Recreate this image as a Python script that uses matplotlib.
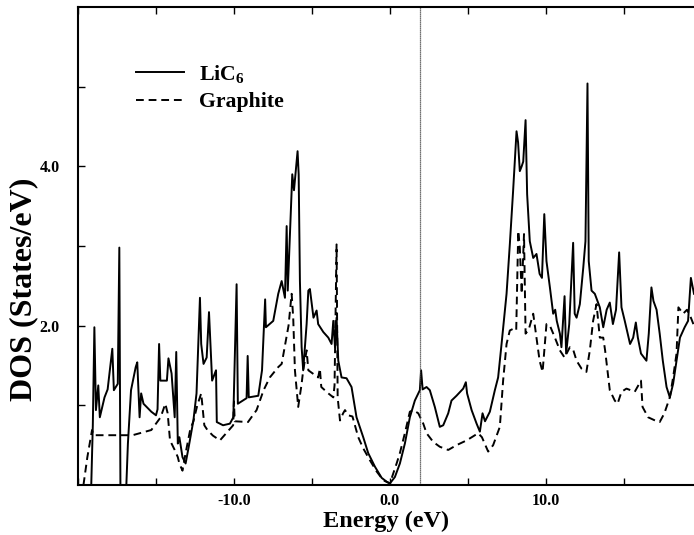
import numpy as np
import matplotlib
matplotlib.use("Agg")
import matplotlib.pyplot as plt

plt.rcParams['font.family'] = ['Liberation Serif', 'DejaVu Serif']
plt.rcParams['font.weight'] = 'bold'
plt.rcParams['mathtext.fontset'] = 'custom'
plt.rcParams['mathtext.rm'] = 'Liberation Serif:bold'
plt.rcParams['mathtext.bf'] = 'Liberation Serif:bold'

# LiC6 DOS (solid)
lic6_e = [-19.15, -19.05, -18.95, -18.85, -18.7, -18.6, -18.3, -18.1, -17.8, -17.7,
          -17.45, -17.35, -17.28, -16.9, -16.8, -16.6, -16.3, -16.2, -16.05, -15.95,
          -15.8, -15.3, -15.0, -14.9, -14.8, -14.72, -14.3, -14.2, -14.0, -13.8,
          -13.7, -13.6, -13.5, -13.3, -13.1, -12.9, -12.6, -12.4, -12.18, -12.1,
          -11.95, -11.75, -11.6, -11.4, -11.15, -11.1, -10.7, -10.26, -10.04, -9.83,
          -9.75, -9.19, -9.12, -9.05, -8.44, -8.2, -8.0, -7.95, -7.48, -7.16,
          -6.94, -6.73, -6.62, -6.55, -6.26, -6.15, -5.92, -5.85, -5.77, -5.66,
          -5.56, -5.45, -5.34, -5.23, -5.13, -4.9, -4.7, -4.6, -4.27, -3.95,
          -3.74, -3.63, -3.52, -3.42, -3.31, -3.1, -2.78, -2.46, -2.14, -1.71,
          -1.39, -0.96, -0.53, -0.2, 0.0, 0.32, 0.64, 0.96, 1.28, 1.6,
          1.92, 2.0, 2.1, 2.35, 2.56, 2.88, 3.2, 3.42, 3.74, 3.95,
          4.27, 4.7, 4.87, 4.95, 5.24, 5.56, 5.77, 5.94, 6.1, 6.41,
          6.73, 6.94, 7.16, 7.48, 7.69, 7.9, 8.12, 8.22, 8.33, 8.45,
          8.55, 8.7, 8.8, 8.97, 9.19, 9.4, 9.6, 9.75, 9.9, 10.04,
          10.26, 10.47, 10.6, 10.7, 10.9, 11.0, 11.2, 11.3, 11.5, 11.75,
          11.85, 11.97, 12.18, 12.4, 12.54, 12.67, 12.75, 12.93, 13.14, 13.46,
          13.68, 13.9, 14.1, 14.3, 14.5, 14.7, 14.85, 15.06, 15.4, 15.6,
          15.77, 15.9, 16.1, 16.45, 16.6, 16.77, 16.9, 17.1, 17.3, 17.5,
          17.74, 17.95, 18.16, 18.38, 18.6, 18.9, 19.12, 19.3, 19.5]
lic6_dos = [0.0, 0.75, 1.98, 0.94, 1.25, 0.85, 1.1, 1.2, 1.71, 1.19,
            1.27, 2.98, 0.0, 0.0, 0.52, 1.19, 1.48, 1.54, 0.85, 1.15,
            1.02, 0.92, 0.875, 0.95, 1.77, 1.31, 1.31, 1.59, 1.4, 0.85,
            1.67, 0.52, 0.6, 0.35, 0.27, 0.48, 0.81, 1.15, 2.35, 1.77,
            1.52, 1.6, 2.17, 1.31, 1.44, 0.79, 0.75, 0.77, 0.85, 2.52,
            1.02, 1.09, 1.62, 1.1, 1.12, 1.44, 2.33, 1.98, 2.06, 2.4,
            2.56, 2.35, 3.25, 2.44, 3.9, 3.7, 4.19, 3.9, 2.56, 1.73,
            1.44, 1.73, 2.02, 2.44, 2.46, 2.1, 2.19, 2.02, 1.92, 1.85,
            1.77, 2.06, 1.73, 2.1, 1.56, 1.35, 1.34, 1.23, 0.85, 0.6,
            0.4, 0.23, 0.09, 0.04, 0.02, 0.1, 0.27, 0.52, 0.85, 1.06,
            1.19, 1.44, 1.2, 1.23, 1.19, 0.98, 0.73, 0.75, 0.9, 1.06,
            1.12, 1.21, 1.29, 1.15, 0.94, 0.77, 0.67, 0.9, 0.8, 0.92,
            1.19, 1.35, 1.77, 2.4, 3.02, 3.69, 4.44, 4.3, 3.94, 4.0,
            4.06, 4.58, 3.65, 3.06, 2.85, 2.9, 2.65, 2.6, 3.4, 2.81,
            2.48, 2.15, 2.2, 2.06, 1.9, 1.73, 2.37, 1.65, 2.02, 3.04,
            2.15, 2.1, 2.27, 2.73, 3.06, 5.04, 2.81, 2.44, 2.4, 2.23,
            1.98, 2.2, 2.29, 2.02, 2.2, 2.92, 2.23, 2.06, 1.77, 1.85,
            2.04, 1.85, 1.65, 1.56, 1.9, 2.48, 2.31, 2.2, 1.9, 1.56,
            1.23, 1.1, 1.27, 1.56, 1.85, 1.98, 2.06, 2.6, 2.4]

# Graphite DOS (dashed)
gr_e = [-19.65, -19.4, -19.1, -19.0, -16.5, -15.3, -14.7, -14.4, -14.25, -14.1,
        -13.8, -13.6, -13.5, -13.3, -13.1, -12.8, -12.6, -12.35, -12.1, -11.9,
        -11.7, -11.35, -10.9, -10.5, -10.05, -10.0, -9.95, -9.1, -8.55, -8.1,
        -7.7, -7.16, -6.94, -6.5, -6.3, -6.2, -6.09, -5.88, -5.66, -5.56,
        -5.34, -5.23, -4.6, -4.49, -4.4, -3.95, -3.63, -3.55, -3.42, -3.35,
        -3.2, -3.0, -2.88, -2.67, -2.4, -2.03, -1.71, -1.28, -0.85, -0.43,
        0.0, 0.43, 0.64, 0.96, 1.28, 1.5, 1.82, 2.14, 2.35, 2.78,
        3.2, 3.74, 4.27, 4.92, 5.66, 5.9, 6.3, 6.62, 7.05, 7.26,
        7.48, 7.69, 7.9, 8.1, 8.23, 8.33, 8.45, 8.6, 8.7, 8.9,
        9.19, 9.4, 9.6, 9.79, 10.04, 10.26, 10.58, 10.9, 11.2, 11.54,
        11.75, 11.97, 12.29, 12.6, 12.82, 13.03, 13.25, 13.46, 13.68, 13.8,
        14.1, 14.42, 14.6, 14.85, 15.17, 15.7, 16.1, 16.2, 16.56, 17.0,
        17.3, 17.6, 17.95, 18.16, 18.38, 18.5, 18.8, 19.05, 19.3, 19.5]
gr_dos = [0.0, 0.35, 0.69, 0.625, 0.625, 0.69, 0.85, 1.02, 0.9, 0.56,
          0.44, 0.35, 0.27, 0.18, 0.4, 0.7, 0.8, 1.0, 1.15, 0.75,
          0.69, 0.62, 0.56, 0.65, 0.75, 1.05, 0.8, 0.79, 0.94, 1.19,
          1.35, 1.48, 1.52, 2.0, 2.4, 2.1, 1.44, 0.98, 1.27, 1.44,
          1.69, 1.44, 1.35, 1.46, 1.23, 1.15, 1.1, 1.25, 3.02, 1.1,
          0.81, 0.9, 0.94, 0.875, 0.86, 0.6, 0.46, 0.31, 0.17, 0.06,
          0.02, 0.27, 0.4, 0.65, 0.92, 0.94, 0.9, 0.77, 0.65, 0.54,
          0.48, 0.44, 0.5, 0.56, 0.65, 0.6, 0.42, 0.5, 0.73, 1.31,
          1.77, 1.94, 1.96, 1.94, 3.19, 2.98, 2.4, 3.15, 1.9, 1.95,
          2.15, 1.85, 1.56, 1.42, 2.02, 2.0, 1.85, 1.69, 1.6, 1.73,
          1.7, 1.56, 1.46, 1.42, 1.69, 2.06, 2.27, 1.85, 1.85, 1.69,
          1.19, 1.06, 1.02, 1.17, 1.21, 1.17, 1.31, 0.98, 0.85, 0.81,
          0.79, 0.9, 1.1, 1.35, 1.65, 2.23, 2.15, 2.2, 2.1, 2.0]

fermi = 1.9

fig = plt.figure(figsize=(6.94, 5.35), dpi=100)
ax = fig.add_axes([78 / 694, 50 / 535, 616 / 694, 478 / 535])

ax.plot(lic6_e, lic6_dos, color='black', lw=1.4, label=r'LiC$_\mathbf{6}$')
ax.plot(gr_e, gr_dos, color='black', lw=1.4, linestyle=(0, (4, 2.5)), label='Graphite')
ax.axvline(fermi, color='#444444', lw=0.9, linestyle=(0, (1, 0.6)))

ax.set_xlim(-20, 19.5)
ax.set_ylim(0, 6)
ax.set_xticks([-20, -15, -10, -5, 0, 5, 10, 15])
ax.set_xticklabels(['', '', '-10.0', '', '0.0', '', '10.0', ''])
ax.set_yticks([1, 2, 3, 4, 5])
ax.set_yticklabels(['', '2.0', '', '4.0', ''])
ax.tick_params(direction='in', length=5, width=1, top=True, right=False,
               labelsize=11.5)
ax.tick_params(axis='x', pad=6)
ax.tick_params(axis='y', pad=13)
for lab in ax.get_xticklabels() + ax.get_yticklabels():
    lab.set_fontweight('bold')
ax.spines['right'].set_visible(False)
for s in ['left', 'top', 'bottom']:
    ax.spines[s].set_linewidth(1.5)

ax.set_xlabel('Energy (eV)', fontsize=17.5, fontweight='bold', va='baseline')
ax.xaxis.set_label_coords(0.5, -(527 - 485) / 478)
ax.set_ylabel('DOS (States/eV)', fontsize=23, fontweight='bold', va='center')
ax.yaxis.set_label_coords(-(78 - 24) / 616, 0.41)

ax.legend(loc='upper left', bbox_to_anchor=(0.094, 0.883), frameon=False,
          fontsize=15.7, handlelength=2.2, handletextpad=0.7, labelspacing=0.3,
          borderpad=0, borderaxespad=0)

fig.savefig('out.png', dpi=100)
